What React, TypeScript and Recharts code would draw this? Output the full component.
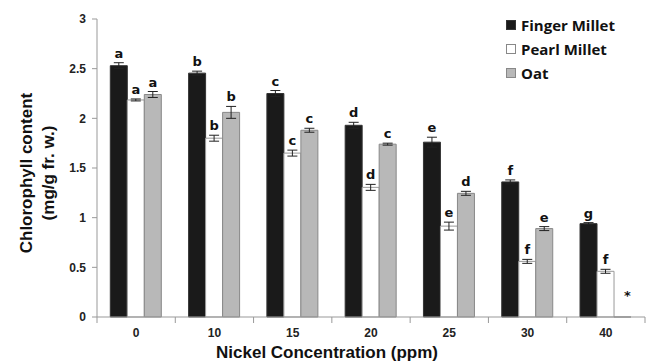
import { BarChart, Bar, XAxis, YAxis, ErrorBar, LabelList, Legend } from "recharts";

const concentrations = ["0", "10", "15", "20", "25", "30", "40"];
const fingerMillet = [2.53, 2.455, 2.25, 1.93, 1.76, 1.36, 0.94];
const pearlMillet = [2.185, 1.8, 1.65, 1.305, 0.915, 0.56, 0.46];
const oat = [2.24, 2.06, 1.88, 1.74, 1.245, 0.89, 0];
const fingerErr = [0.03, 0.02, 0.03, 0.03, 0.05, 0.02, 0.01];
const pearlErr = [0.01, 0.03, 0.03, 0.03, 0.04, 0.02, 0.02];
const oatErr = [0.03, 0.06, 0.02, 0.01, 0.02, 0.02, 0];
const fingerLetters = ["a", "b", "c", "d", "e", "f", "g"];
const pearlLetters = ["a", "b", "c", "d", "e", "f", "f"];
const oatLetters = ["a", "b", "c", "c", "d", "e", "*"];
const yTicks = [0, 0.5, 1, 1.5, 2, 2.5, 3];

const data = concentrations.map((c, i) => ({
  conc: c,
  finger: fingerMillet[i],
  pearl: pearlMillet[i],
  oat: oat[i],
  fingerErr: fingerErr[i],
  pearlErr: pearlErr[i],
  oatErr: oatErr[i],
  fingerLetter: fingerLetters[i],
  pearlLetter: pearlLetters[i],
  oatLetter: oatLetters[i],
}));

const legendItems = [
  { name: "Finger Millet", fill: "#1a1a1a", stroke: "#333" },
  { name: "Pearl Millet", fill: "#ffffff", stroke: "#888" },
  { name: "Oat", fill: "#b8b8b8", stroke: "#888" },
];

const W = 647;
const H = 364;
const plotLeft = 97;
const plotRight = 645;
const bandW = (plotRight - plotLeft) / concentrations.length;

function makeLabel(values: number[], errs: number[]) {
  return (props: any) => {
    const { x, y, width, height, value, index } = props;
    const v = values[index];
    let ty;
    if (v > 0) {
      const pxPerUnit = height / v;
      ty = y - errs[index] * pxPerUnit - 5;
    } else {
      ty = y + height - 17;
    }
    return (
      <text
        x={x + width / 2 + (v > 0 ? 0 : 5)}
        y={ty}
        textAnchor="middle"
        fontFamily="DejaVu Sans"
        fontWeight="bold"
        fontSize={13}
        fill="#111"
      >
        {value}
      </text>
    );
  };
}

function XTick(props: any) {
  const { x, y, payload, index } = props;
  const left = x - bandW / 2;
  return (
    <g>
      <line x1={left} y1={y} x2={left} y2={y + 6} stroke="#999" />
      {index === concentrations.length - 1 && (
        <line x1={x + bandW / 2} y1={y} x2={x + bandW / 2} y2={y + 6} stroke="#999" />
      )}
      <text
        x={x}
        y={y + 20}
        textAnchor="middle"
        fontFamily="Liberation Sans"
        fontWeight="bold"
        fontSize={12}
        fill="#222"
      >
        {payload.value}
      </text>
    </g>
  );
}

function LegendBox() {
  return (
    <div style={{ fontFamily: "Open Sans", fontWeight: 700, fontSize: 15, color: "#111" }}>
      {legendItems.map((it) => (
        <div key={it.name} style={{ display: "flex", alignItems: "center", height: 24 }}>
          <span
            style={{
              width: 8,
              height: 8,
              background: it.fill,
              border: `1px solid ${it.stroke}`,
              marginRight: 5,
              display: "inline-block",
            }}
          />
          {it.name}
        </div>
      ))}
    </div>
  );
}

export default function App() {
  return (
    <div style={{ position: "absolute", left: 0, top: 0, background: "#fff" }}>
      <BarChart
        width={W}
        height={H}
        data={data}
        margin={{ top: 19, right: W - plotRight, bottom: 17, left: 0 }}
        barGap={0}
        barCategoryGap="17%"
      >
        <XAxis
          dataKey="conc"
          height={30}
          stroke="#999"
          tickLine={false}
          tickSize={0}
          tickMargin={0}
          tick={<XTick />}
          interval={0}
        />
        <YAxis
          width={plotLeft}
          domain={[0, 3]}
          ticks={yTicks}
          stroke="#999"
          tickSize={5}
          tickMargin={6}
          tick={{ fill: "#222", fontFamily: "Liberation Sans", fontWeight: "bold", fontSize: 12 }}
        />
        <Legend
          layout="vertical"
          align="center"
          verticalAlign="middle"
          wrapperStyle={{ top: 13, left: 506, width: 140 }}
          content={<LegendBox />}
        />
        <Bar dataKey="finger" fill="#1a1a1a" stroke="#333" isAnimationActive={false}>
          <ErrorBar dataKey="fingerErr" width={5} stroke="#222" strokeWidth={1} />
          <LabelList dataKey="fingerLetter" content={makeLabel(fingerMillet, fingerErr)} />
        </Bar>
        <Bar dataKey="pearl" fill="#ffffff" stroke="#999" isAnimationActive={false}>
          <ErrorBar dataKey="pearlErr" width={5} stroke="#222" strokeWidth={1} />
          <LabelList dataKey="pearlLetter" content={makeLabel(pearlMillet, pearlErr)} />
        </Bar>
        <Bar dataKey="oat" fill="#b8b8b8" stroke="#888" minPointSize={0.01} isAnimationActive={false}>
          <ErrorBar dataKey="oatErr" width={5} stroke="#222" strokeWidth={1} />
          <LabelList dataKey="oatLetter" content={makeLabel(oat, oatErr)} />
        </Bar>
        <text
          x={26}
          y={173}
          transform="rotate(-90 26 173)"
          textAnchor="middle"
          dominantBaseline="central"
          fontFamily="Liberation Sans"
          fontWeight="bold"
          fontSize={17}
          fill="#111"
        >
          Chlorophyll content
        </text>
        <text
          x={48}
          y={173}
          transform="rotate(-90 48 173)"
          textAnchor="middle"
          dominantBaseline="central"
          fontFamily="Liberation Sans"
          fontWeight="bold"
          fontSize={17}
          fill="#111"
        >
          (mg/g fr. w.)
        </text>
        <text
          x={327}
          y={358}
          textAnchor="middle"
          fontFamily="Liberation Sans"
          fontWeight="bold"
          fontSize={17}
          fill="#111"
        >
          Nickel Concentration (ppm)
        </text>
      </BarChart>
    </div>
  );
}
